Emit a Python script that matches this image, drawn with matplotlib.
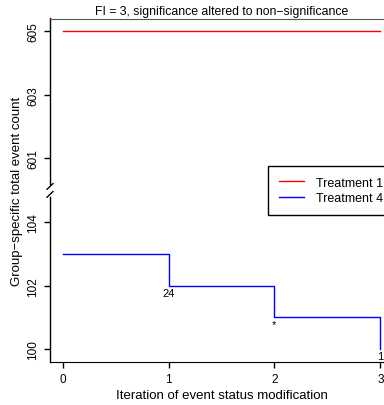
import matplotlib.pyplot as plt
import matplotlib.transforms as mtransforms

plt.rcParams['font.family'] = ['Liberation Sans', 'DejaVu Sans']

# datos
iteraciones = [0, 1, 2, 3]
tratamiento_1 = [605, 605, 605, 605]
tratamiento_4 = [103, 102, 101, 100]
etiquetas_t4 = ['', '24', '*', '1']
nombres = ['Treatment 1', 'Treatment 4']

# eje cortado: los valores por encima del corte se desplazan
corte_bajo = 105
corte_alto = 600
desplazamiento = corte_alto - corte_bajo

yticks_valores = [100, 102, 104, 601, 603, 605]


def transformar(v):
    return v - desplazamiento if v > corte_alto else v


fig = plt.figure(figsize=(3.84, 4.06), dpi=100)
W, H = 384, 406
ax = fig.add_axes([50 / W, 43 / H, 343 / W, (363 - 19.5) / H])

ax.plot(iteraciones, [transformar(v) for v in tratamiento_1], color='red',
        linewidth=1, drawstyle='steps-post', label=nombres[0])
ax.plot(iteraciones, [transformar(v) for v in tratamiento_4], color='blue',
        linewidth=1, drawstyle='steps-post', label=nombres[1])

for xi, yi, et in zip(iteraciones, tratamiento_4, etiquetas_t4):
    if et:
        ax.annotate(et, (xi, yi), xytext=(0, -1.5), textcoords='offset points',
                    ha='center', va='top', fontsize=8)

ax.set_xlim(-0.12, 3.12)
ax.set_ylim(99.6, 110.4)

ax.set_xticks(iteraciones)
ax.set_yticks([transformar(v) for v in yticks_valores])
ax.set_yticklabels([str(v) for v in yticks_valores], rotation=90, va='center')
ax.tick_params(direction='out', length=4, width=1, labelsize=8.5, pad=4)

# eje izquierdo con corte
ax.spines['left'].set_visible(False)
ax.spines['right'].set_visible(False)
ax.spines['top'].set_color('#555555')
trans = mtransforms.blended_transform_factory(ax.transAxes, ax.transData)
ax.plot([0, 0], [99.6, 104.8], color='black', linewidth=1, transform=trans, clip_on=False)
ax.plot([0, 0], [105.2, 110.4], color='black', linewidth=1, transform=trans, clip_on=False)
dx = 3 / 343
for yc in [105.12, 104.87]:
    ax.plot([-dx, dx], [yc - 0.09, yc + 0.09], color='black', linewidth=1,
            transform=trans, clip_on=False)

ax.set_title('FI = 3, significance altered to non\u2212significance', fontsize=8.8, pad=3)
ax.set_xlabel('Iteration of event status modification', fontsize=9.5, labelpad=3)
ax.set_ylabel('Group\u2212specific total event count', fontsize=9.5, labelpad=3)

ax.legend(loc='upper left', bbox_to_anchor=(268 / W, 1 - 167 / H),
          bbox_transform=fig.transFigure, borderaxespad=0, fontsize=9,
          fancybox=False, edgecolor='black', framealpha=1,
          handlelength=2.0, handletextpad=0.95, borderpad=0.85, labelspacing=0.3)

fig.savefig('out.png', dpi=100)
